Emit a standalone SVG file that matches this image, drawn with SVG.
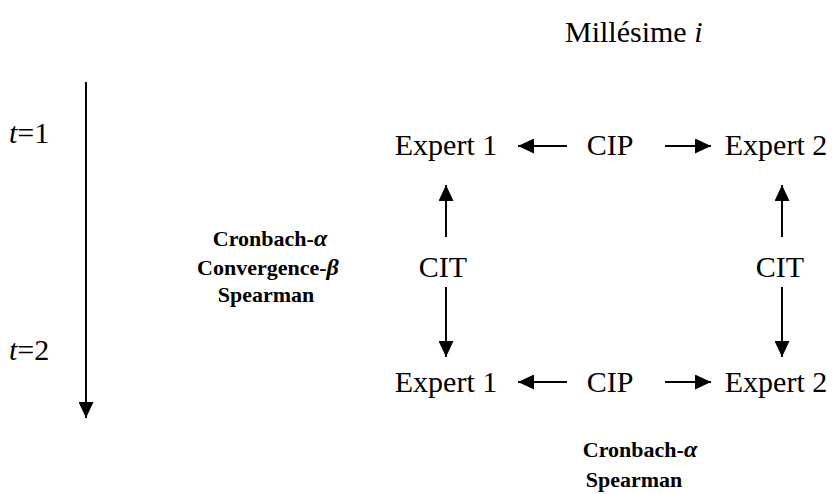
<svg xmlns="http://www.w3.org/2000/svg" width="840" height="494" viewBox="0 0 840 494">
<style>
.t{font-family:"Liberation Serif","Times New Roman",serif;font-size:30px;fill:#000}
.b{font-family:"Liberation Serif","Times New Roman",serif;font-size:22px;font-weight:bold;fill:#000}
.c{text-anchor:middle}
.ln{stroke:#000;stroke-width:2;fill:none}
</style>
<defs>
<marker id="ah" viewBox="0 0 16 15" refX="16" refY="7.5" markerWidth="16" markerHeight="15" markerUnits="userSpaceOnUse" orient="auto">
<path d="M0,0 L16,7.5 L0,15 Z" fill="#000"/>
</marker>
</defs>
<g id="title"><text class="t" x="565" y="42">Millésime <tspan font-style="italic">i</tspan></text></g>
<g id="t1"><text class="t" x="9" y="143"><tspan font-style="italic">t</tspan>=1</text></g>
<g id="t2"><text class="t" x="9" y="360"><tspan font-style="italic">t</tspan>=2</text></g>
<g id="e1top"><text class="t c" x="446" y="155">Expert 1</text></g>
<g id="ciptop"><text class="t c" x="610" y="155">CIP</text></g>
<g id="e2top"><text class="t c" x="776" y="155">Expert 2</text></g>
<g id="citleft"><text class="t c" x="443" y="277">CIT</text></g>
<g id="citright"><text class="t c" x="780" y="277">CIT</text></g>
<g id="e1bot"><text class="t c" x="446" y="392">Expert 1</text></g>
<g id="cipbot"><text class="t c" x="610" y="392">CIP</text></g>
<g id="e2bot"><text class="t c" x="776" y="392">Expert 2</text></g>
<g id="stats1"><text class="b c" x="270" y="246">Cronbach-<tspan font-style="italic" font-size="24">α</tspan></text>
<text class="b c" x="268" y="275">Convergence-<tspan font-style="italic" font-size="24">β</tspan></text>
<text class="b c" x="266" y="302">Spearman</text></g>
<g id="stats2"><text class="b c" x="640" y="457">Cronbach-<tspan font-style="italic" font-size="24">α</tspan></text>
<text class="b c" x="634" y="487">Spearman</text></g>
<g id="connectors">
<line class="ln" x1="86" y1="82" x2="86" y2="418" marker-end="url(#ah)"/>
<line class="ln" x1="567" y1="146" x2="518" y2="146" marker-end="url(#ah)"/>
<line class="ln" x1="665" y1="146" x2="711" y2="146" marker-end="url(#ah)"/>
<line class="ln" x1="446" y1="237" x2="446" y2="185" marker-end="url(#ah)"/>
<line class="ln" x1="782" y1="237" x2="782" y2="185" marker-end="url(#ah)"/>
<line class="ln" x1="446" y1="287" x2="446" y2="357" marker-end="url(#ah)"/>
<line class="ln" x1="782" y1="287" x2="782" y2="357" marker-end="url(#ah)"/>
<line class="ln" x1="567" y1="382" x2="518" y2="382" marker-end="url(#ah)"/>
<line class="ln" x1="665" y1="382" x2="711" y2="382" marker-end="url(#ah)"/>
</g>
</svg>
